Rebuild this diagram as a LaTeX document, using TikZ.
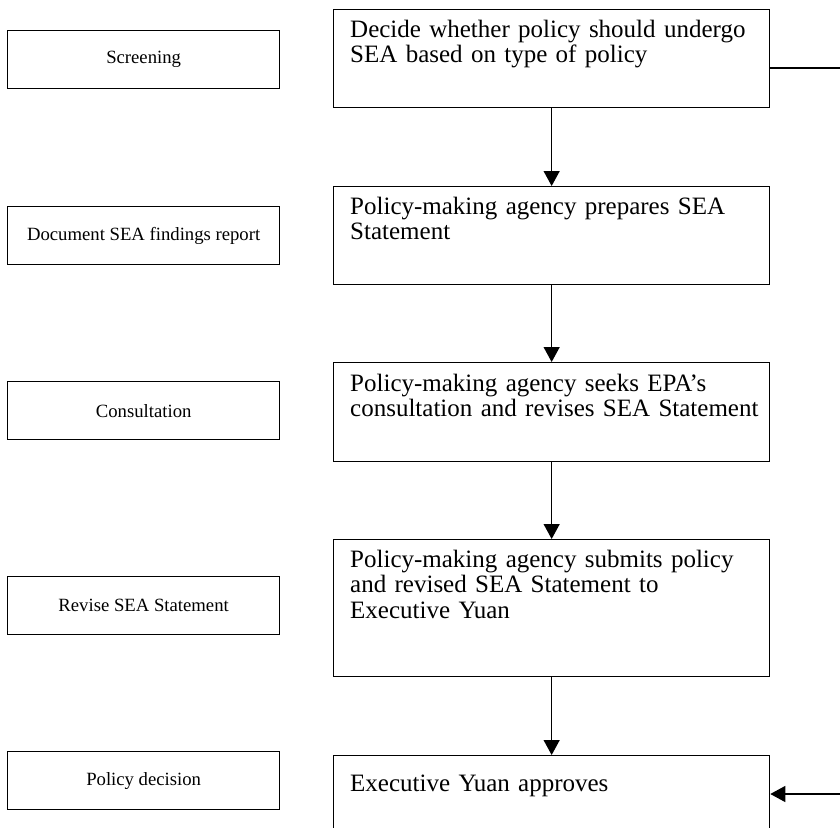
\documentclass[tikz,border=0pt]{standalone}
\usepackage{fontspec}
\setmainfont{Liberation Serif}
\usetikzlibrary{arrows.meta}
\tikzset{
  stepbox/.style={draw, line width=1.3pt, minimum width=436pt, anchor=north west, inner sep=0pt},
  phasebox/.style={draw, line width=1.3pt, minimum width=272pt, minimum height=58pt, anchor=north west, inner sep=0pt, font=\fontsize{18.7}{20}\selectfont},
  steptext/.style={anchor=base west, align=left, text width=430pt, inner sep=0pt, font=\fontsize{25}{25.5}\selectfont},
  flowarrow/.style={-{Triangle[length=15pt,width=16pt]}, line width=1.3pt},
  plainline/.style={line width=1.3pt}
}
\begin{document}
\begin{tikzpicture}[x=1pt,y=-1pt]
\useasboundingbox (0,0) rectangle (840,827);
\clip (0,0) rectangle (840,827);
\fill[white] (0,0) rectangle (840,827);
% left phase boxes
\node[phasebox] (p1) at (7,30) {Screening};
\node[phasebox] (p2) at (7,206) {Document SEA findings report};
\node[phasebox] (p3) at (7,381) {Consultation};
\node[phasebox] (p4) at (7,576) {Revise SEA Statement};
\node[phasebox] (p5) at (7,751) {Policy decision};
% right step boxes
\node[stepbox, minimum height=98pt] (b1) at (333,9) {};
\node[stepbox, minimum height=98pt] (b2) at (333,186) {};
\node[stepbox, minimum height=99pt] (b3) at (333,362) {};
\node[stepbox, minimum height=137pt] (b4) at (333,539) {};
\node[stepbox, minimum height=110pt] (b5) at (333,755) {};
% step texts
\node[steptext] (t1) at (350,37) {Decide whether policy should undergo\\SEA based on type of policy};
\node[steptext] (t2) at (350,214) {Policy-making agency prepares SEA\\Statement};
\node[steptext] (t3) at (350,391) {Policy-making agency seeks EPA’s\\consultation and revises SEA Statement};
\node[steptext] (t4) at (350,567) {Policy-making agency submits policy\\and revised SEA Statement to\\Executive Yuan};
\node[steptext] (t5) at (350,791) {Executive Yuan approves};
% connectors
\draw[flowarrow] (b1.south) -- (b2.north);
\draw[flowarrow] (b2.south) -- (b3.north);
\draw[flowarrow] (b3.south) -- (b4.north);
\draw[flowarrow] (b4.south) -- (b5.north);
\coordinate (r1) at (842,68);
\coordinate (r5) at (842,794);
\draw[plainline] (b1.east |- r1) -- (r1);
\draw[flowarrow] (r5) -- (b5.east |- r5);
\end{tikzpicture}
\end{document}
